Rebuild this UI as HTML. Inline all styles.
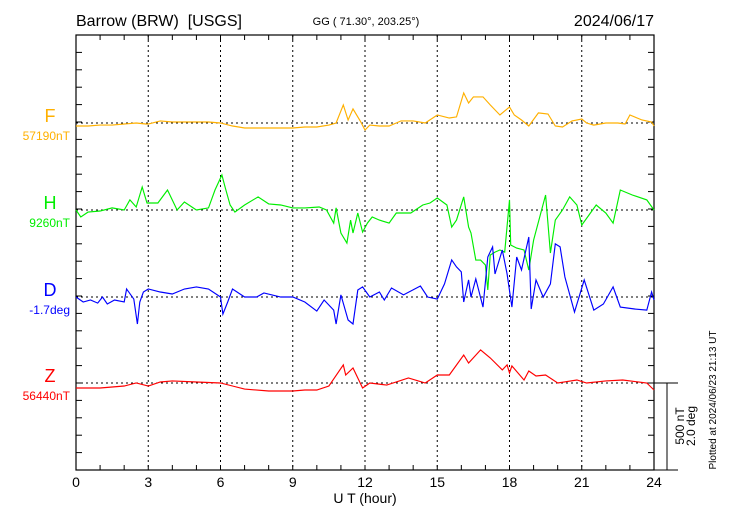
<!DOCTYPE html>
<html><head><meta charset="utf-8"><style>
body{margin:0;background:#fff;width:730px;height:520px;overflow:hidden}
svg text{font-family:"Liberation Sans",sans-serif}
</style></head><body>
<svg id="chart" width="730" height="520" xmlns="http://www.w3.org/2000/svg">
<text x="76" y="26" font-size="16">Barrow (BRW)&#160; [USGS]</text>
<text x="366" y="25" font-size="11" text-anchor="middle">GG ( 71.30°, 203.25°)</text>
<text x="654" y="26" font-size="16" text-anchor="end">2024/06/17</text>
<text x="365" y="503" font-size="14" text-anchor="middle">U T (hour)</text>
<text transform="translate(716,400) rotate(-90)" font-size="10" text-anchor="middle">Plotted at 2024/06/23 21:13 UT</text>
<text transform="translate(684,426) rotate(-90)" font-size="12" text-anchor="middle">500 nT</text>
<text transform="translate(695,426) rotate(-90)" font-size="12" text-anchor="middle">2.0 deg</text>
<g id="g"></g>
</svg>
<script>
const hourTicks=[0,3,6,9,12,15,18,21,24];
const seriesNames=["F","H","D","Z"];
const seriesBaseLabels=["57190nT","9260nT","-1.7deg","56440nT"];
const fT=[0,0.5,1,1.5,2,2.5,2.9,3,3.5,4,4.5,5,5.5,6,6.5,7,7.5,8,8.5,9,9.5,10,10.5,10.8,11.1,11.3,11.5,11.8,12,12.2,12.6,13,13.5,14,14.5,15,15.5,15.8,16.1,16.3,16.5,16.9,17.2,17.6,18,18.2,18.5,18.8,19.2,19.6,19.9,20.2,20.6,21,21.2,21.5,22,22.5,22.8,23,23.5,23.9,24];
const fV=[-17,-17,-12,-12,-6,0,-6,-6,12,6,6,6,6,0,-17,-29,-29,-29,-29,-29,-23,-23,-12,0,104,17,81,12,-40,-12,-17,-17,12,12,0,46,29,35,173,115,150,150,104,46,92,46,17,-17,58,52,-17,-23,12,23,0,-12,0,0,-6,46,17,6,-17];
const hT=[0,0.2,0.5,1,1.5,2,2.24,2.5,2.75,2.95,3.4,3.8,4.2,4.5,5,5.5,5.77,6.06,6.2,6.4,6.6,7,7.56,8,8.5,9,9.5,10.1,10.4,10.7,10.8,11,11.25,11.4,11.5,11.7,11.9,12.1,12.3,12.6,13,13.3,13.9,14.4,14.7,15,15.4,15.6,15.8,16.1,16.3,16.4,16.6,16.8,17,17.1,17.2,17.4,17.6,17.8,18,18.05,18.3,18.6,18.8,19,19.3,19.5,19.7,19.9,20.2,20.5,20.8,21,21.3,21.6,22,22.3,22.6,23.1,23.7,24];
const hV=[0,-40,-12,-6,12,0,58,17,132,40,40,115,0,46,0,12,115,201,127,29,-12,29,75,35,29,12,12,17,0,-75,12,-132,-190,-58,-132,-17,-127,-75,-40,-58,-75,-17,-17,29,40,69,29,-98,-58,75,-98,-132,-288,-288,-316,-460,-259,-242,-230,-242,58,-201,-219,-230,-345,-173,-17,86,-247,-58,0,75,29,-86,-29,29,-17,-75,115,86,58,0];
const dT=[0,0.3,0.6,0.9,1.1,1.3,1.6,2.0,2.1,2.4,2.55,2.65,2.8,3,3.5,4,4.5,5,5.5,6,6.1,6.3,6.5,7,7.5,7.8,8.5,9,9.5,10,10.3,10.7,10.8,11,11.3,11.5,11.7,11.9,12.2,12.6,12.8,13.1,13.6,14.3,14.6,15,15.3,15.6,15.8,16,16.1,16.3,16.4,16.6,16.9,17.1,17.3,17.4,17.7,17.9,18.1,18.3,18.5,18.8,18.9,19.1,19.4,19.7,19.9,20.1,20.3,20.7,21.1,21.5,21.9,22.3,22.6,23.2,23.7,23.9,24];
const dV=[0,-29,-17,-35,0,-40,-17,-29,46,-12,-155,-29,29,46,29,17,46,58,46,0,-98,-29,46,0,0,23,0,0,-29,-81,-17,-75,-155,12,-132,-155,40,58,0,29,-17,52,12,63,0,-12,75,213,173,144,-29,98,0,104,-58,230,288,132,270,132,-58,230,155,345,-69,98,0,75,305,288,115,-86,98,-75,-40,58,-58,-69,-75,29,-17];
const zT=[0,1,2,2.5,3,3.5,4,5,6,6.5,7,8,9,9.5,10,10.5,11.1,11.2,11.5,11.9,12.2,12.9,13.8,14.5,15,15.5,16.1,16.3,16.8,17.2,17.7,17.9,18,18.1,18.6,18.8,19.1,19.5,20,20.8,21.2,22,22.7,23.7,24];
const zV=[-29,-29,-17,0,-17,6,12,6,0,-17,-35,-46,-46,-40,-40,-17,104,46,86,-29,0,-12,29,0,46,46,161,115,190,144,75,104,58,98,17,69,40,46,0,17,0,12,17,0,-40];
const colors=["#FFB000","#00EE00","#0000FF","#FF0000"];
const baseY=[123,210,297,383];
const NS="http://www.w3.org/2000/svg";
const L=76,R=654,T=35,B=470;
const xs=h=>L+h*(R-L)/24;
const ys=(i,v)=>baseY[i]-v*87/500;
const g=document.getElementById('g');
function mk(t,a){const e=document.createElementNS(NS,t);for(const k in a)e.setAttribute(k,a[k]);g.appendChild(e);return e;}
let e=mk('rect',{x:L,y:T,width:R-L,height:B-T,fill:'none',stroke:'#000','stroke-width':1.2});


for(let h=0;h<=24;h++){
 e=mk('line',{x1:xs(h),x2:xs(h),y1:T,y2:T+5,stroke:'#000'});
 
 
 e=mk('line',{x1:xs(h),x2:xs(h),y1:B,y2:B-5,stroke:'#000'});
 
 
}
hourTicks.forEach(h=>{
 if(h>0&&h<24){e=mk('line',{x1:xs(h),x2:xs(h),y1:T,y2:B,stroke:'#000','stroke-dasharray':'2,3','stroke-width':1});
 
 }
 e=mk('text',{x:xs(h),y:487,'font-size':14,'text-anchor':'middle'});e.textContent=h;
 
 
});
for(let y=B;y>=T-1;y-=87/5){
 e=mk('line',{x1:L,x2:L+6,y1:y,y2:y,stroke:'#000'});
 
 
 e=mk('line',{x1:R,x2:R-6,y1:y,y2:y,stroke:'#000'});
 
 
}
e=mk('path',{d:`M${R} 383H678M${R} ${B}H678M667 383V${B}`,stroke:'#000',fill:'none'});


const TS=[fT,hT,dT,zT],VS=[fV,hV,dV,zV];
for(let i=0;i<4;i++){
 e=mk('line',{x1:L,x2:R,y1:baseY[i],y2:baseY[i],stroke:'#000','stroke-dasharray':'2,3'});
 
 
 e=mk('polyline',{points:TS[i].map((t,j)=>xs(t).toFixed(1)+','+ys(i,VS[i][j]).toFixed(1)).join(' '),fill:'none',stroke:colors[i],'stroke-width':1.15});
 
 
 e=mk('text',{x:50,y:baseY[i]-1,'font-size':18,fill:colors[i],'text-anchor':'middle'});e.textContent=seriesNames[i];
 
 
 e=mk('text',{x:70,y:baseY[i]+17,'font-size':12,fill:colors[i],'text-anchor':'end'});e.textContent=seriesBaseLabels[i];
 
 
}
</script>
</body></html>
